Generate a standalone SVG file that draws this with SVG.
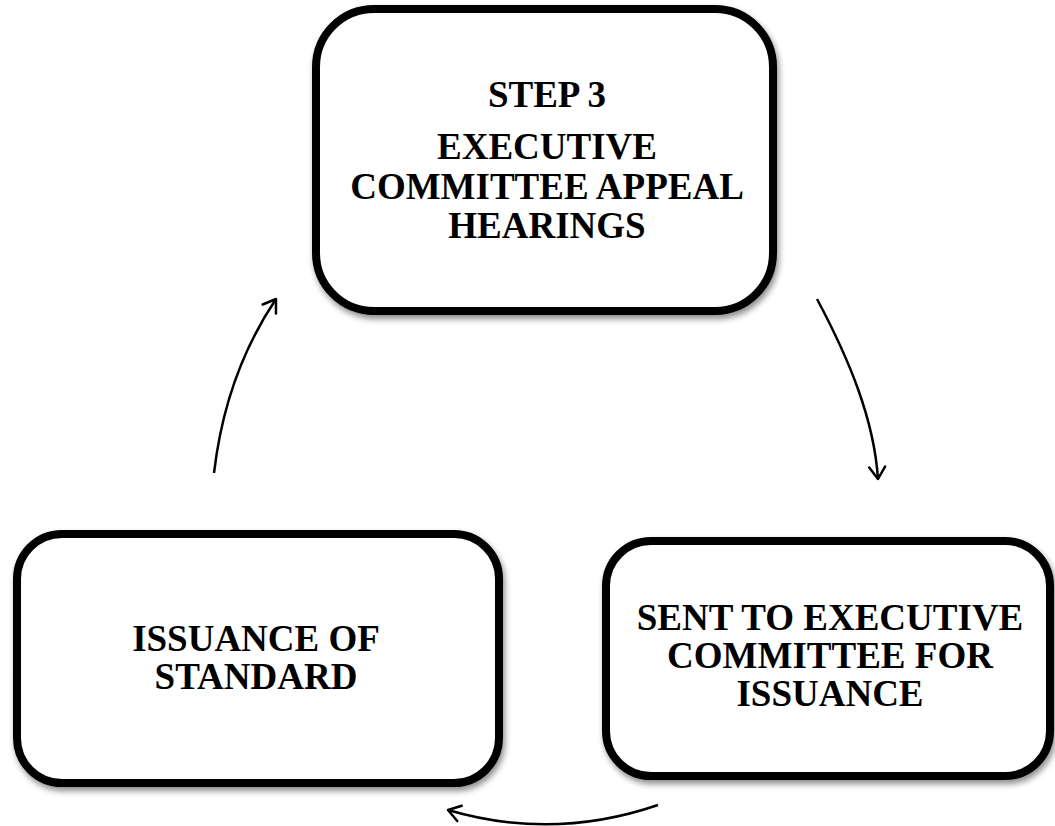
<svg xmlns="http://www.w3.org/2000/svg" width="1055" height="826" viewBox="0 0 1055 826">
<style>
.box{fill:#fff;stroke:#000;stroke-width:8;filter:url(#sh)}
.t{font-family:"Liberation Serif","Times New Roman",serif;font-weight:bold;font-size:37px;fill:#000;text-anchor:middle}
.c{fill:none;stroke:#000;stroke-width:2.5;marker-end:url(#ah)}
</style>
<defs>
<filter id="sh" x="-10%" y="-10%" width="125%" height="130%">
<feGaussianBlur in="SourceAlpha" stdDeviation="3"/>
<feOffset dx="2" dy="4" result="b"/>
<feComponentTransfer><feFuncA type="linear" slope="0.45"/></feComponentTransfer>
<feMerge><feMergeNode/><feMergeNode in="SourceGraphic"/></feMerge>
</filter>
<marker id="ah" markerUnits="userSpaceOnUse" markerWidth="30" markerHeight="30" refX="15" refY="15" orient="auto" viewBox="0 0 30 30">
<path d="M3 7 L15 15 L3 23" fill="none" stroke="#000" stroke-width="2.5" stroke-linecap="round" stroke-linejoin="round"/>
</marker>
</defs>
<g id="node-step3">
<rect class="box" x="316" y="9" width="457" height="302" rx="58"/>
<text class="t" x="547" y="107">STEP 3</text>
<text class="t" x="547" y="159">EXECUTIVE</text>
<text class="t" x="547" y="199">COMMITTEE APPEAL</text>
<text class="t" x="547" y="238">HEARINGS</text>
</g>
<g id="node-sent">
<rect class="box" x="606" y="541" width="444" height="235" rx="45"/>
<text class="t" x="830" y="630">SENT TO EXECUTIVE</text>
<text class="t" x="830" y="668">COMMITTEE FOR</text>
<text class="t" x="830" y="706">ISSUANCE</text>
</g>
<g id="node-issuance">
<rect class="box" x="17" y="534" width="482" height="249" rx="45"/>
<text class="t" x="256" y="651">ISSUANCE OF</text>
<text class="t" x="256" y="689">STANDARD</text>
</g>
<g id="connectors">
<path class="c" d="M817 299 C849 359 874 419 878 479"/>
<path class="c" d="M658 805 Q553 841 448 810"/>
<path class="c" d="M214 473 C221 413 239 354 276 299"/>
</g>
</svg>
